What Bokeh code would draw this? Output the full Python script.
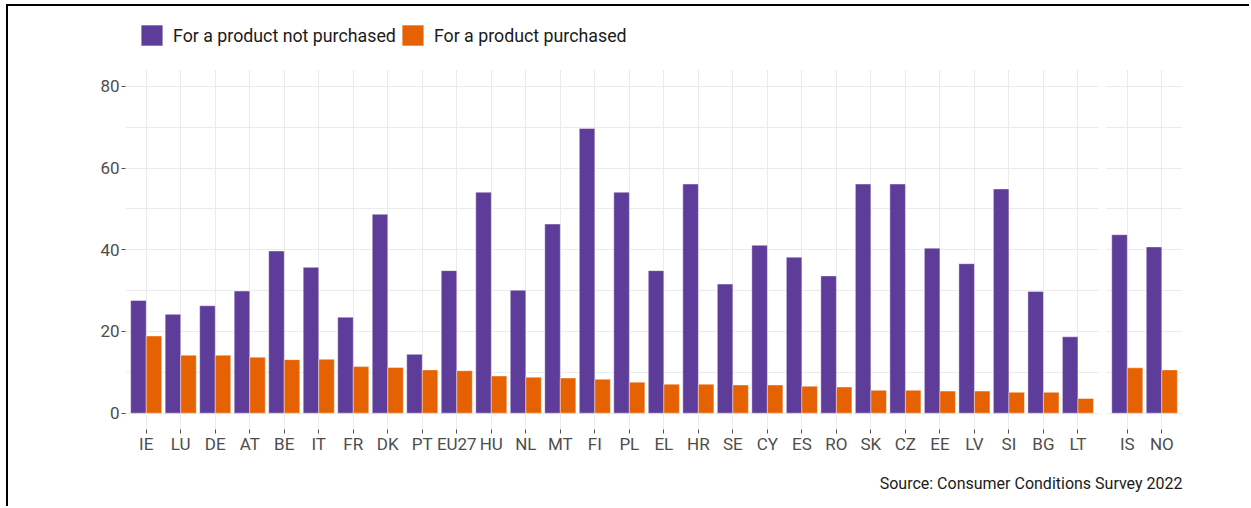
from bokeh.plotting import figure
from bokeh.models import (ColumnDataSource, Range1d, FixedTicker, Legend, LegendItem,
                          BoxAnnotation, Title, CustomJSTickFormatter)
from bokeh.transform import dodge
from bokeh.embed import file_html
from bokeh.resources import INLINE

# ---- data ----
countries_eu = ["IE", "LU", "DE", "AT", "BE", "IT", "FR", "DK", "PT", "EU27", "HU", "NL", "MT", "FI",
                "PL", "EL", "HR", "SE", "CY", "ES", "RO", "SK", "CZ", "EE", "LV", "SI", "BG", "LT"]
not_purchased_eu = [27.6, 24.2, 26.3, 29.9, 39.7, 35.7, 23.5, 48.7, 14.4, 34.9, 54.1, 30.1, 46.3, 69.7,
                    54.1, 34.9, 56.1, 31.6, 41.1, 38.2, 33.6, 56.1, 56.1, 40.4, 36.6, 54.9, 29.8, 18.7]
purchased_eu = [18.9, 14.2, 14.2, 13.7, 13.1, 13.2, 11.4, 11.2, 10.6, 10.4, 9.1, 8.8, 8.6, 8.3,
                7.6, 7.1, 7.1, 6.9, 6.9, 6.6, 6.4, 5.6, 5.6, 5.4, 5.4, 5.1, 5.1, 3.6]
countries_efta = ["IS", "NO"]
not_purchased_efta = [43.7, 40.7]
purchased_efta = [11.1, 10.6]

series_labels = ["For a product not purchased", "For a product purchased"]
colors = ["#5e3c99", "#e66101"]
y_ticks = [0, 20, 40, 60, 80]
y_minor = [10, 30, 50, 70]
source_text = "Source: Consumer Conditions Survey 2022"

FONT = "Roboto"
TXT = "#4d4d4d"
GAP = 0.43          # spacing between the EU panel and the EFTA panel (in category units)
EXP = 0.6           # discrete axis expansion on each side of a panel

countries = countries_eu + countries_efta
xpos = list(range(len(countries_eu))) + [len(countries_eu) + GAP + j for j in range(len(countries_efta))]
src = ColumnDataSource(dict(
    x=xpos,
    country=countries,
    notp=not_purchased_eu + not_purchased_efta,
    p=purchased_eu + purchased_efta,
))

x_start = xpos[0] - EXP
x_end = xpos[-1] + EXP
eu_edge = xpos[len(countries_eu) - 1] + EXP
efta_edge = xpos[len(countries_eu)] - EXP

p = figure(width=1243, height=502, x_range=Range1d(x_start, x_end), y_range=Range1d(-4, 98.6),
           output_backend="svg", toolbar_location=None,
           min_border_left=117, min_border_right=69, min_border_top=4, min_border_bottom=79,
           outline_line_color=None,
           styles={"border-left": "2px solid black", "border-top": "2px solid black",
                   "margin-left": "6px", "margin-top": "4px"})

r1 = p.vbar(x=dodge("x", -0.225), top="notp", width=0.45, source=src,
            fill_color=colors[0], line_color="white", line_width=0.6, line_alpha=0.7)
r2 = p.vbar(x=dodge("x", 0.225), top="p", width=0.45, source=src,
            fill_color=colors[1], line_color="white", line_width=0.6, line_alpha=0.7)

# axes / ticks
p.xaxis.ticker = FixedTicker(ticks=xpos)
p.xaxis.formatter = CustomJSTickFormatter(
    args=dict(pos=xpos, labs=countries),
    code="const i = pos.findIndex(v => Math.abs(v - tick) < 1e-6); return i >= 0 ? labs[i] : '';")
p.yaxis.ticker = FixedTicker(ticks=y_ticks, minor_ticks=y_minor)

p.xgrid.grid_line_color = "#ebebeb"
p.xgrid.grid_line_width = 1
p.ygrid.grid_line_color = "#ebebeb"
p.ygrid.grid_line_width = 1
p.ygrid.minor_grid_line_color = "#ebebeb"
p.ygrid.minor_grid_line_width = 1

# gap between the two panels, and blank strip above the panels (legend area)
p.add_layout(BoxAnnotation(left=eu_edge, right=efta_edge, fill_color="white", fill_alpha=1,
                           line_color=None))
p.add_layout(BoxAnnotation(bottom=84, fill_color="white", fill_alpha=1, line_color=None))

for ax in (p.xaxis[0], p.yaxis[0]):
    ax.axis_line_color = None
    ax.major_tick_in = 0
    ax.major_tick_out = 4
    ax.major_tick_line_color = TXT
    ax.minor_tick_line_color = None
    ax.major_label_text_font = FONT
    ax.major_label_text_font_size = "17px"
    ax.major_label_text_color = TXT
p.yaxis.major_label_standoff = 2
p.xaxis.major_label_standoff = 0

legend = Legend(items=[LegendItem(label=series_labels[0], renderers=[r1]),
                       LegendItem(label=series_labels[1], renderers=[r2])],
                orientation="horizontal", location=(13, 381),
                glyph_width=27, glyph_height=26, label_standoff=8, spacing=3,
                label_text_font=FONT, label_text_font_size="17.8px", label_text_color="#1a1a1a",
                border_line_color=None, background_fill_alpha=0, padding=0, margin=0)
p.add_layout(legend)

p.add_layout(Title(text=source_text, align="right", text_font=FONT, text_font_size="16px",
                   text_font_style="normal", text_color="#1a1a1a", standoff=31), "below")

open("out.html", "w").write(file_html(p, INLINE))
